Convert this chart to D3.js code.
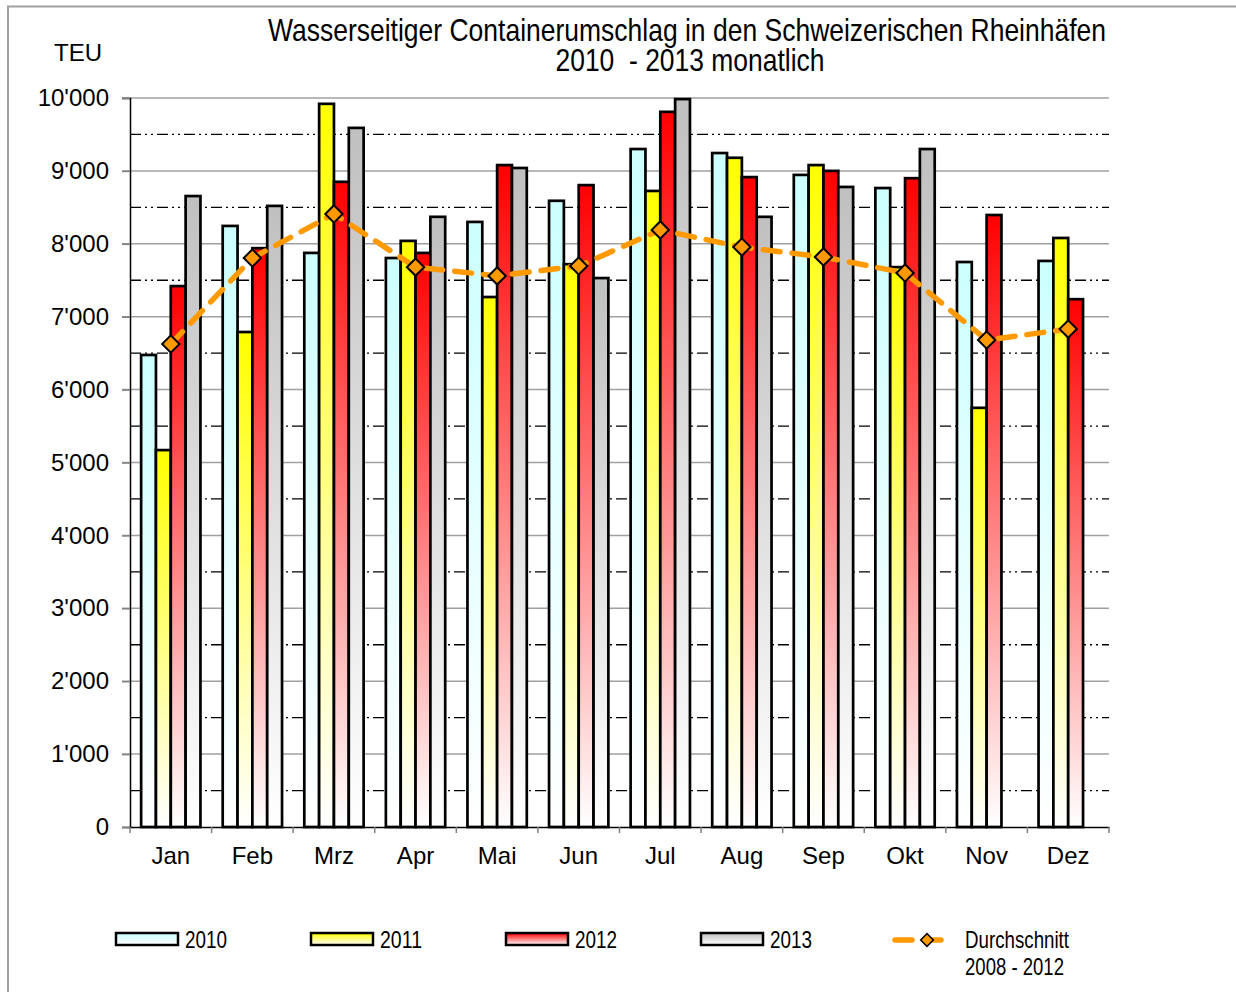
<!DOCTYPE html>
<html><head><meta charset="utf-8">
<script src="https://cdn.jsdelivr.net/npm/d3@7"></script>
<style>body{margin:0;background:#fff}svg{display:block}</style>
</head><body>
<svg id="c" width="1236" height="992"></svg>
<script>
const months = ["Jan","Feb","Mrz","Apr","Mai","Jun","Jul","Aug","Sep","Okt","Nov","Dez"];
const years = ["2010","2011","2012","2013"];
const v2010 = [6475,8245,7875,7805,8300,8590,9300,9245,8945,8765,7750,7765];
const v2011 = [5170,6790,9920,8040,7270,7720,8725,9180,9080,7680,5750,8080];
const v2012 = [7420,7940,8850,7875,9080,8805,9810,8915,9000,8900,8395,7240];
const v2013 = [8655,8520,9590,8370,9040,7530,9985,8370,8780,9300,null,null];
const avg   = [6625,7805,8410,7680,7560,7695,8190,7955,7820,7600,6680,6830];
const yTicks = [0,1000,2000,3000,4000,5000,6000,7000,8000,9000,10000];
const series = [v2010,v2011,v2012,v2013];
const colors = ["#ccffff","#ffff00","#ff0000","#c0c0c0"];

const svg = d3.select("#c");
const L=130,R=1109,T=98,B=827;
const y = d3.scaleLinear().domain([0,10000]).range([B,T]);
const x0 = d3.scaleBand().domain(months).range([L,R]).padding(0);
const x1 = d3.scaleBand().domain(years).range([0,x0.bandwidth()]).paddingInner(0).paddingOuter(0.75);

const defs = svg.append("defs");
colors.forEach((c,i)=>{
  const g = defs.append("linearGradient").attr("id","g"+i).attr("x1",0).attr("y1",0).attr("x2",0).attr("y2",1);
  g.append("stop").attr("offset","0%").attr("stop-color",c);
  g.append("stop").attr("offset","100%").attr("stop-color","#ffffff");
});

// frame
svg.append("path").attr("d","M8,992 V6.5 H1236").attr("fill","none").attr("stroke","#a0a0a0").attr("stroke-width",2);

// gridlines
const fmt = d => d3.format(",")(d).replace(/,/g,"'");
svg.append("g").selectAll("line").data(d3.range(500,10000,1000)).join("line")
  .attr("x1",L).attr("x2",R).attr("y1",d=>y(d)).attr("y2",d=>y(d))
  .attr("stroke","#000").attr("stroke-width",1.3).attr("stroke-dasharray","11,4,2,4,2,4");
svg.append("g").selectAll("line").data(yTicks.filter(d=>d>0)).join("line")
  .attr("x1",122).attr("x2",R).attr("y1",d=>y(d)).attr("y2",d=>y(d))
  .attr("stroke","#a0a0a0").attr("stroke-width",1.5);

// y axis
const sans = "'Liberation Sans',Arial,sans-serif";
const yAxis = d3.axisLeft(y).tickValues(yTicks).tickFormat(fmt).tickSize(8).tickPadding(13);
const ya = svg.append("g").attr("transform",`translate(${L},0)`).call(yAxis);
ya.select(".domain").attr("stroke","#000").attr("stroke-width",1.5);
ya.selectAll(".tick line").attr("stroke","#808080").attr("stroke-width",1.5);
ya.selectAll("text").attr("font-family",sans).attr("font-size",24).attr("fill","#000");

// bars
const grp = svg.append("g").selectAll("g").data(months).join("g").attr("transform",d=>`translate(${x0(d)},0)`);
grp.selectAll("rect").data((m,mi)=>years.map((yr,si)=>({yr,si,v:series[si][mi]})).filter(d=>d.v!=null)).join("rect")
  .attr("x",d=>x1(d.yr)).attr("width",x1.bandwidth())
  .attr("y",d=>y(d.v)).attr("height",d=>B-y(d.v))
  .attr("fill",d=>`url(#g${d.si})`).attr("stroke","#000").attr("stroke-width",2.7);

// x axis
const xAxis = d3.axisBottom(x0).tickSize(0).tickPadding(20);
const xa = svg.append("g").attr("transform",`translate(0,${B})`).call(xAxis);
xa.select(".domain").attr("stroke","#000").attr("stroke-width",1.5);
xa.selectAll("text").attr("font-family",sans).attr("font-size",24).attr("fill","#000");
svg.append("g").selectAll("line").data(months.map(m=>x0(m)).concat([R])).join("line")
  .attr("x1",d=>d).attr("x2",d=>d).attr("y1",B).attr("y2",B+6).attr("stroke","#808080").attr("stroke-width",1.5);

// average line
const cx = m => x0(m)+x0.bandwidth()/2;
const line = d3.line().x((d,i)=>cx(months[i])).y(d=>y(d));
svg.append("path").datum(avg).attr("d",line).attr("fill","none").attr("stroke","#ff9900")
  .attr("stroke-width",5.5).attr("stroke-dasharray","17,12").attr("stroke-linecap","round");
svg.append("g").selectAll("path").data(avg).join("path")
  .attr("d",d3.symbol().type(d3.symbolSquare).size(150))
  .attr("transform",(d,i)=>`translate(${cx(months[i])},${y(d)}) rotate(45)`)
  .attr("fill","#ff9900").attr("stroke","#000").attr("stroke-width",2);

// titles
const narrow = "'Liberation Sans Narrow','Arial Narrow','Liberation Sans',Arial,sans-serif";
svg.append("text").attr("x",687).attr("y",41).attr("text-anchor","middle").attr("font-family",narrow).attr("font-size",32)
  .attr("textLength",838).attr("lengthAdjust","spacingAndGlyphs").text("Wasserseitiger Containerumschlag in den Schweizerischen Rheinhäfen");
svg.append("text").attr("x",690).attr("y",71).attr("text-anchor","middle").attr("font-family",narrow).attr("font-size",32)
  .attr("textLength",269).attr("lengthAdjust","spacingAndGlyphs").attr("xml:space","preserve").text("2010  - 2013 monatlich");
svg.append("text").attr("x",78).attr("y",61).attr("text-anchor","middle").attr("font-family",sans).attr("font-size",24).text("TEU");

// legend
const legX = [116,311,506,701];
const lg = svg.append("g");
years.forEach((yr,i)=>{
  lg.append("rect").attr("x",legX[i]).attr("y",933).attr("width",62).attr("height",12)
    .attr("fill",`url(#g${i})`).attr("stroke","#000").attr("stroke-width",2.5);
  lg.append("text").attr("x",legX[i]+69).attr("y",948).attr("font-family",narrow).attr("font-size",24)
    .attr("textLength",42).attr("lengthAdjust","spacingAndGlyphs").text(yr);
});
lg.append("line").attr("x1",895).attr("x2",945).attr("y1",940).attr("y2",940).attr("stroke","#ff9900")
  .attr("stroke-width",5.5).attr("stroke-dasharray","17,12").attr("stroke-linecap","round");
lg.append("path").attr("d",d3.symbol().type(d3.symbolSquare).size(80)).attr("transform","translate(927,940) rotate(45)")
  .attr("fill","#ff9900").attr("stroke","#000").attr("stroke-width",1.5);
lg.append("text").attr("x",965).attr("y",948).attr("font-family",narrow).attr("font-size",24)
  .attr("textLength",104).attr("lengthAdjust","spacingAndGlyphs").text("Durchschnitt");
lg.append("text").attr("x",965).attr("y",975).attr("font-family",narrow).attr("font-size",24)
  .attr("textLength",99).attr("lengthAdjust","spacingAndGlyphs").text("2008 - 2012");
</script>
</body></html>
